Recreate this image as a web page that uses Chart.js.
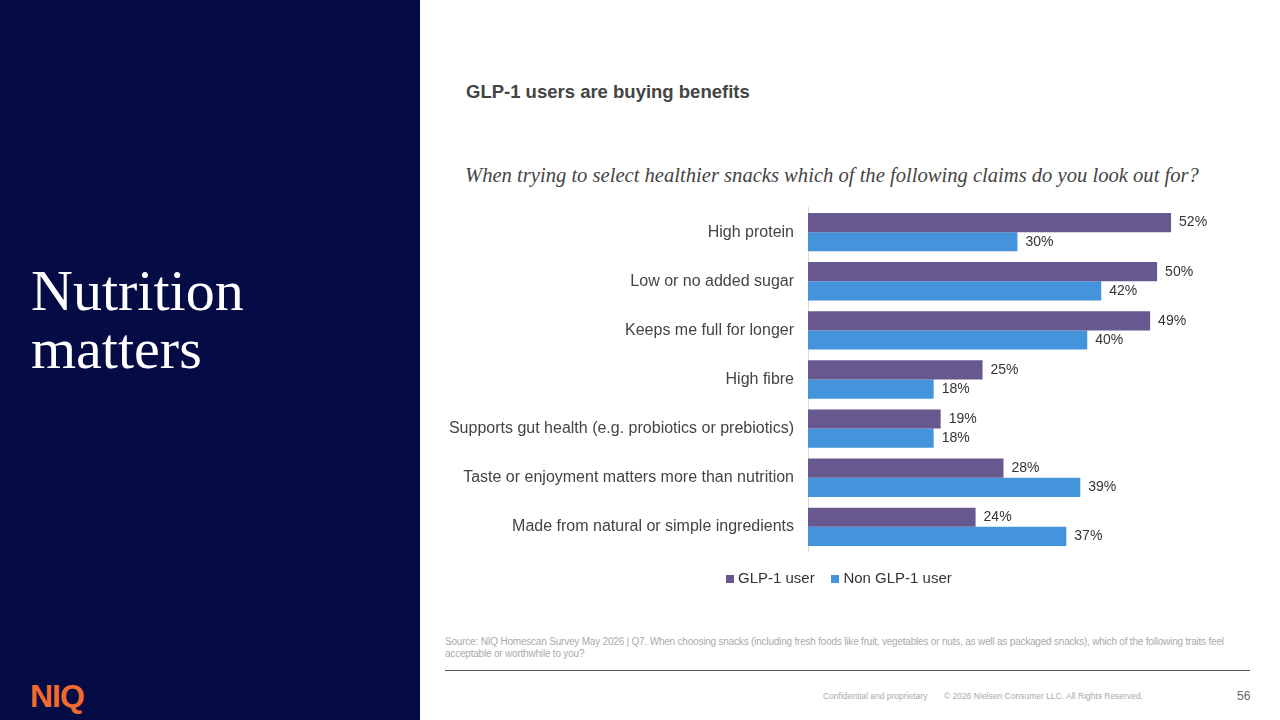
<!DOCTYPE html>
<html>
<head>
<meta charset="utf-8">
<script src="https://cdn.jsdelivr.net/npm/chart.js@4"></script>
<style>
  body { margin: 0; width: 1280px; height: 720px; position: relative; font-family: Arial, "Liberation Sans", sans-serif; background: #fff; overflow: hidden; }
  #side { position: absolute; left: 0; top: 0; width: 420px; height: 720px; background: #050b45; }
  #side h1 { position: absolute; left: 31px; top: 262px; margin: 0; color: #fff; font-family: "Liberation Serif", serif; font-weight: normal; font-size: 58px; line-height: 58px; }
  #logo { position: absolute; left: 30px; top: 678px; color: #f26a2e; font-weight: bold; font-size: 32px; letter-spacing: -1px; }
  #title { position: absolute; left: 466px; top: 81px; font-size: 18.5px; font-weight: bold; color: #444; }
  #q { position: absolute; left: 465px; top: 164px; font-size: 20.6px; font-style: italic; color: #444; font-family: "Liberation Serif", serif; }
  #c { position: absolute; left: 440px; top: 184px; width: 800px; height: 391px; }
  #legend { position: absolute; left: 726px; top: 569px; font-size: 15px; color: #333; }
  #legend span.sw { display: inline-block; width: 8px; height: 8px; margin-right: 4px; }
  #source { position: absolute; left: 445px; top: 636px; width: 800px; font-size: 10px; line-height: 12px; color: #aaa; letter-spacing: -0.2px; }
  #rule { position: absolute; left: 445px; top: 670px; width: 805px; height: 1px; background: #555; }
  #foot { position: absolute; left: 823px; top: 691px; font-size: 8.5px; color: #aaa; }
  #page { position: absolute; left: 1237px; top: 689px; font-size: 12px; color: #666; }
</style>
</head>
<body>
<div id="side"><h1>Nutrition<br>matters</h1><div id="logo">NIQ</div></div>
<div id="title">GLP-1 users are buying benefits</div>
<div id="q">When trying to select healthier snacks which of the following claims do you look out for?</div>
<canvas id="c" width="800" height="391"></canvas>
<div id="legend"><span class="sw" style="background:#67588f"></span>GLP-1 user&nbsp;&nbsp;&nbsp;&nbsp;<span class="sw" style="background:#4394db"></span>Non GLP-1 user</div>
<div id="source">Source: NIQ Homescan Survey May 2026 | Q7. When choosing snacks (including fresh foods like fruit, vegetables or nuts, as well as packaged snacks), which of the following traits feel acceptable or worthwhile to you?</div>
<div id="rule"></div>
<div id="foot">Confidential and proprietary&nbsp;&nbsp;&nbsp;&nbsp;&nbsp;&nbsp;&nbsp;© 2026 Nielsen Consumer LLC. All Rights Reserved.</div>
<div id="page">56</div>
<script>
const categories = ['High protein', 'Low or no added sugar', 'Keeps me full for longer', 'High fibre',
  'Supports gut health (e.g. probiotics or prebiotics)', 'Taste or enjoyment matters more than nutrition',
  'Made from natural or simple ingredients'];
const glp1Users = [52, 50, 49, 25, 19, 28, 24];
const nonGlp1Users = [30, 42, 40, 18, 18, 39, 37];

// draw the % labels just past each bar
const valueLabels = {
  id: 'valueLabels',
  afterDatasetsDraw(chart) {
    const ctx = chart.ctx;
    ctx.save();
    ctx.font = '14px Arial, "Liberation Sans", sans-serif';
    ctx.fillStyle = '#333';
    ctx.textBaseline = 'middle';
    chart.data.datasets.forEach((ds, i) => {
      chart.getDatasetMeta(i).data.forEach((bar, j) => {
        ctx.fillText(ds.data[j] + '%', bar.x + 8, bar.y);
      });
    });
    ctx.restore();
  }
};

new Chart(document.getElementById('c'), {
  type: 'bar',
  data: {
    labels: categories,
    datasets: [
      { label: 'GLP-1 user', data: glp1Users, backgroundColor: '#67588f' },
      { label: 'Non GLP-1 user', data: nonGlp1Users, backgroundColor: '#4394db' }
    ]
  },
  options: {
    indexAxis: 'y',
    responsive: false,
    maintainAspectRatio: false,
    animation: false,
    layout: { padding: { right: 48 } },
    datasets: { bar: { categoryPercentage: 0.78, barPercentage: 1 } },
    plugins: { legend: { display: false }, tooltip: { enabled: false } },
    scales: {
      x: { display: false, min: 0, max: 55 },
      y: {
        afterFit(s) { s.width = 368; },
        grid: { display: false, drawTicks: false },
        border: { color: '#d9d9d9' },
        ticks: { color: '#444', padding: 14, font: { size: 16, family: 'Arial, "Liberation Sans", sans-serif' } }
      }
    }
  },
  plugins: [valueLabels]
});
</script>
</body>
</html>
